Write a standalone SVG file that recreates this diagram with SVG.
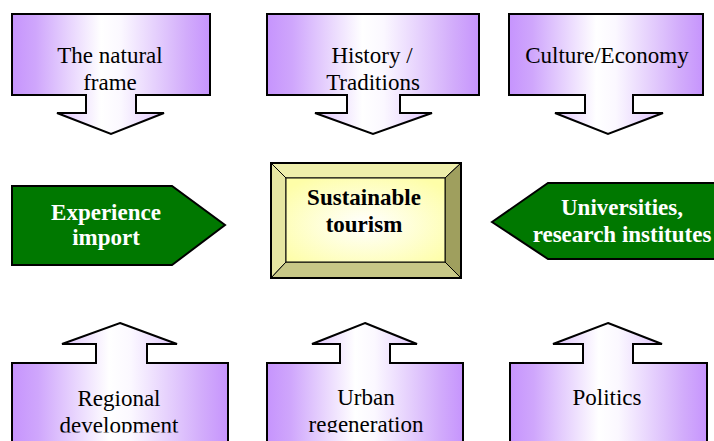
<svg xmlns="http://www.w3.org/2000/svg" width="714" height="441" viewBox="0 0 714 441">
<defs>
<linearGradient id="purple" x1="0" y1="0" x2="1" y2="0">
<stop offset="0" stop-color="#c694fd"/>
<stop offset="0.12" stop-color="#cfa6fc"/>
<stop offset="0.45" stop-color="#ffffff"/>
<stop offset="0.55" stop-color="#fbf8ff"/>
<stop offset="0.88" stop-color="#d2acfb"/>
<stop offset="1" stop-color="#c694fd"/>
</linearGradient>
<radialGradient id="face" cx="0.5" cy="0.55" r="0.65">
<stop offset="0" stop-color="#ffffff"/>
<stop offset="1" stop-color="#fefea8"/>
</radialGradient>
<clipPath id="bclip"><rect x="0" y="0" width="714" height="432.5"/></clipPath>
</defs>
<style>
.callout{fill:url(#purple);stroke:#000;stroke-width:2;stroke-linejoin:miter}
.green{fill:#007800;stroke:#000;stroke-width:2}
.t{font-family:"Liberation Serif","Times New Roman",serif;font-size:23px;fill:#000;text-anchor:middle}
.tb{font-family:"Liberation Serif","Times New Roman",serif;font-size:23px;font-weight:bold;text-anchor:middle}
.w{fill:#fff}
.bev{stroke:#000;stroke-width:1}
</style>
<g id="connectors"></g>
<g id="natural-frame">
<path class="callout" d="M12,14 H210 V95 H136 V113 H164 L111,134 L57,113 H86 V95 H12 Z"/>
<text class="t" x="110" y="63">The natural</text>
<text class="t" x="110" y="90">frame</text>
</g>
<g id="history">
<path class="callout" d="M267,14 H479 V95 H400 V113 H432 L373,134 L315,113 H347 V95 H267 Z"/>
<text class="t" x="372" y="63">History /</text>
<text class="t" x="373" y="90">Traditions</text>
</g>
<g id="culture">
<path class="callout" d="M509,14 H703 V95 H633 V113 H663 L608,134 L555,113 H585 V95 H509 Z"/>
<text class="t" x="607" y="63">Culture/Economy</text>
</g>
<g id="experience">
<path class="green" d="M12,186 H172 L225,225 L172,265 H12 Z"/>
<text class="tb w" x="106" y="220">Experience</text>
<text class="tb w" x="106" y="245">import</text>
</g>
<g id="universities">
<path class="green" d="M492,222 L548,183 H720 V259 H548 Z"/>
<text class="tb w" x="622" y="215">Universities,</text>
<text class="tb w" x="622" y="242">research institutes</text>
</g>
<g id="sustainable">
<polygon class="bev" points="271,163 461,163 445,178 286,178" fill="#eeeeab"/>
<polygon class="bev" points="271,163 286,178 286,262 271,278" fill="#e6e6a2"/>
<polygon class="bev" points="461,163 461,278 445,262 445,178" fill="#9f9f5e"/>
<polygon class="bev" points="271,278 286,262 445,262 461,278" fill="#c8c887"/>
<rect x="286" y="178" width="159" height="84" fill="url(#face)" stroke="#000" stroke-width="1"/>
<rect x="271" y="163" width="190" height="115" fill="none" stroke="#000" stroke-width="2"/>
<text class="tb" x="364" y="205" fill="#000">Sustainable</text>
<text class="tb" x="364" y="232" fill="#000">tourism</text>
</g>
<g id="regional">
<path class="callout" d="M120,323 L177,344 H147 V363 H228 V445 H12 V363 H96 V344 H62 Z"/>
<g clip-path="url(#bclip)">
<text class="t" x="119" y="406">Regional</text>
<text class="t" x="119" y="433">development</text>
</g>
</g>
<g id="urban">
<path class="callout" d="M365,323 L417,344 H390 V363 H463 V445 H267 V363 H340 V344 H312 Z"/>
<g clip-path="url(#bclip)">
<text class="t" x="366" y="405">Urban</text>
<text class="t" x="366" y="432">regeneration</text>
</g>
</g>
<g id="politics">
<path class="callout" d="M608,323 L662,344 H633 V363 H707 V445 H510 V363 H583 V344 H553 Z"/>
<text class="t" x="607" y="405">Politics</text>
</g>
</svg>
